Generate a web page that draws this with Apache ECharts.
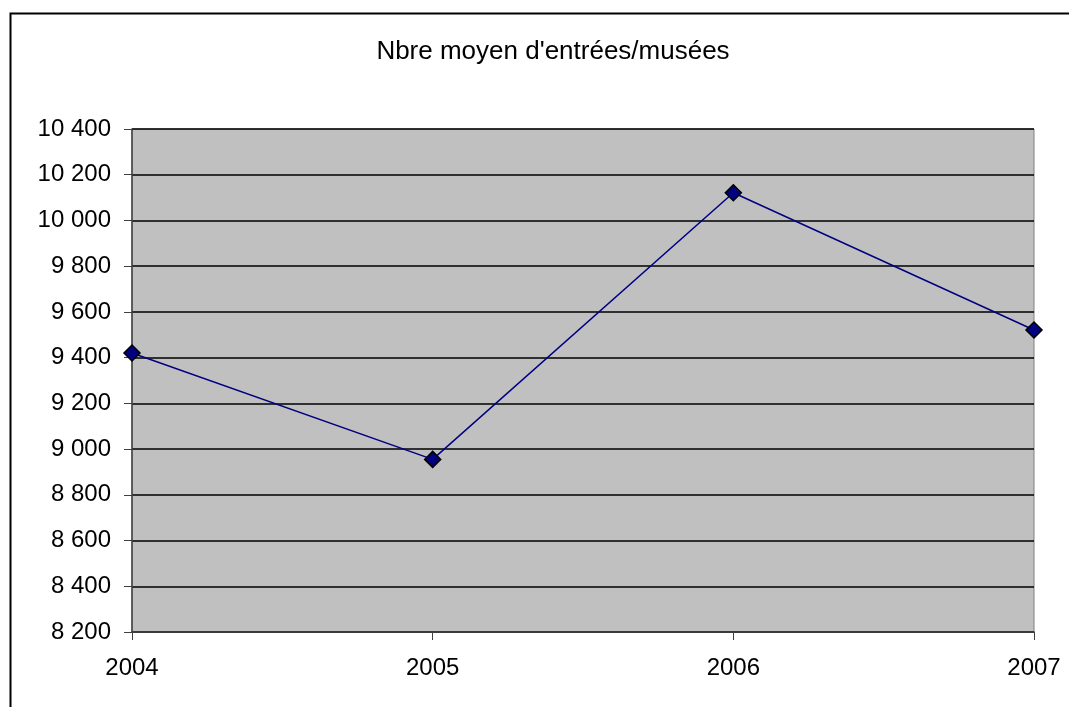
<!DOCTYPE html>
<html>
<head>
<meta charset="utf-8">
<script src="https://cdn.jsdelivr.net/npm/echarts@6/dist/echarts.min.js"></script>
<style>
html,body{margin:0;padding:0;background:#fff;}
#chart{width:1069px;height:707px;}
</style>
</head>
<body>
<div id="chart"></div>
<script>
const titleText = "Nbre moyen d'entrées/musées";
const categories = ["2004", "2005", "2006", "2007"];
const values = [9420, 8955, 10121, 9521];
const yMin = 8200, yMax = 10400, yStep = 200;

function fmt(v) {
  const s = String(Math.round(v));
  return s.replace(/\B(?=(\d{3})+(?!\d))/g, " ");
}

const FONT = 'Liberation Sans, Arial, sans-serif';
const chart = echarts.init(document.getElementById('chart'), null, {renderer: 'canvas'});
chart.setOption({
  animation: false,
  backgroundColor: '#ffffff',
  textStyle: {fontFamily: FONT},
  title: {
    text: titleText,
    left: 548, top: 34, textAlign: 'center',
    textStyle: {fontSize: 26, fontWeight: 'normal', color: '#000', fontFamily: FONT}
  },
  graphic: [{
    type: 'rect', silent: true, z: 100,
    shape: {x: 10.5, y: 13.5, width: 1100, height: 750},
    style: {fill: 'none', stroke: '#000', lineWidth: 2}
  }],
  grid: {
    left: 132, top: 129, width: 902, height: 503,
    show: true, backgroundColor: '#C0C0C0', borderColor: '#808080', borderWidth: 1
  },
  xAxis: {
    type: 'category', data: categories, boundaryGap: false,
    axisLine: {show: true, lineStyle: {color: '#404040', width: 1.5}},
    axisTick: {show: true, length: 8, lineStyle: {color: '#404040'}},
    axisLabel: {margin: 24, fontSize: 24, color: '#000', fontFamily: FONT},
    splitLine: {show: false}
  },
  yAxis: {
    type: 'value', min: yMin, max: yMax, interval: yStep,
    axisLine: {show: true, lineStyle: {color: '#404040', width: 1.5}},
    axisTick: {show: true, length: 8, lineStyle: {color: '#404040'}},
    axisLabel: {margin: 21, fontSize: 24, color: '#000', formatter: fmt, fontFamily: FONT},
    splitLine: {show: true, lineStyle: {color: '#000', width: 1.5}}
  },
  series: [{
    type: 'line', data: values,
    symbol: 'diamond', symbolSize: 16,
    lineStyle: {color: '#000080', width: 1.5},
    itemStyle: {color: '#000080', borderColor: '#000', borderWidth: 1.5},
    z: 5
  }]
});
</script>
</body>
</html>
